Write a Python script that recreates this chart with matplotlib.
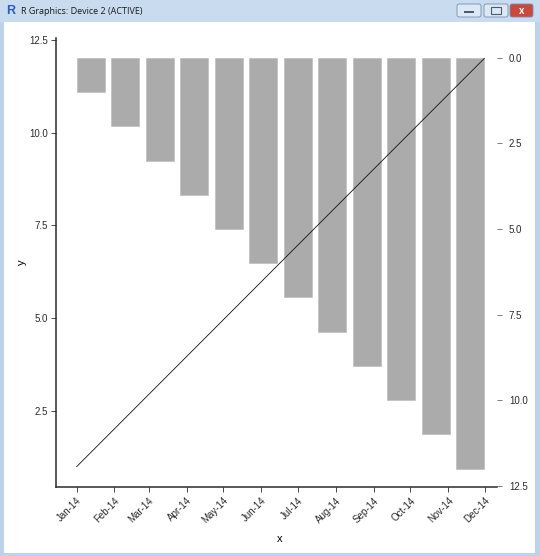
import matplotlib
matplotlib.use('Agg')
import matplotlib.pyplot as plt
import matplotlib.dates as mdates
from matplotlib.patches import Rectangle, FancyBboxPatch
import numpy as np
import pandas as pd

# data
month_dates = ['2014-01-01', '2014-02-01', '2014-03-01', '2014-04-01',
               '2014-05-01', '2014-06-01', '2014-07-01', '2014-08-01',
               '2014-09-01', '2014-10-01', '2014-11-01', '2014-12-01']
line_values = [1, 2, 3, 4, 5, 6, 7, 8, 9, 10, 11, 12]
bar_values = [1, 2, 3, 4, 5, 6, 7, 8, 9, 10, 11, 12]
left_ticks = [2.5, 5.0, 7.5, 10.0, 12.5]
right_ticks = [0.0, 2.5, 5.0, 7.5, 10.0, 12.5]

plt.rcParams['font.family'] = ['Liberation Sans', 'DejaVu Sans']

W, H = 540, 556
fig = plt.figure(figsize=(W / 100, H / 100), dpi=100)
fig.patch.set_facecolor('#bcd3ea')


def px_rect(x0, y0, x1, y1):
    # pixel box (top-left origin) -> figure fraction rect
    return [x0 / W, 1 - y1 / H, (x1 - x0) / W, (y1 - y0) / H]


# window chrome
r = px_rect(4, 22, 535, 553)
fig.patches.append(Rectangle((r[0], r[1]), r[2], r[3], transform=fig.transFigure,
                             facecolor='white', edgecolor='none', zorder=-2))
fig.patches.append(Rectangle((0, 1 - 22 / H), 1, 22 / H, transform=fig.transFigure,
                             facecolor='#c8dbef', edgecolor='none', zorder=-2))
fig.text(6 / W, 1 - 11 / H, 'R', color='#2a5cb8', fontsize=9, fontweight='bold',
         va='center', ha='left')
fig.text(21 / W, 1 - 11 / H, 'R Graphics: Device 2 (ACTIVE)', color='#1a1a1a',
         fontsize=6.5, va='center', ha='left', family=['Open Sans', 'DejaVu Sans'])
for x0, x1, fc in [(457, 481, '#dce8f5'), (484, 508, '#dce8f5'), (510, 533, '#c9493f')]:
    b = px_rect(x0, 4, x1, 17)
    fig.patches.append(FancyBboxPatch((b[0], b[1]), b[2], b[3], transform=fig.transFigure,
                                      boxstyle='round,pad=0,rounding_size=0.004',
                                      facecolor=fc, edgecolor='#7a8ea8', lw=0.6, zorder=-1))
fig.text(521.5 / W, 1 - 10.5 / H, 'x', color='white', fontsize=7, fontweight='bold',
         ha='center', va='center')
fig.patches.append(Rectangle((464 / W, 1 - 13 / H), 10 / W, 2 / H, transform=fig.transFigure,
                             facecolor='#4a5a70', edgecolor='none', zorder=-1))
fig.patches.append(Rectangle((491 / W, 1 - 14 / H), 10 / W, 7 / H, transform=fig.transFigure,
                             facecolor='none', edgecolor='#4a5a70', lw=0.8, zorder=-1))

rect = px_rect(56, 38, 497, 487)
text_col = '#2b2b2b'

# bars on their own evenly spaced axis, right-hand reversed scale
axb = fig.add_axes(rect)
axb.set_zorder(2)
bar_x = np.arange(len(bar_values))
axb.bar(bar_x, bar_values, width=0.81, color='#ababab', edgecolor='#b8b8b8', linewidth=0.4)
axb.set_xlim(-1.006, 11.777)
axb.set_ylim(12.54, -0.58)
axb.yaxis.tick_right()
axb.set_yticks(right_ticks)
axb.set_yticklabels(['%.1f' % v for v in right_ticks])
axb.tick_params(axis='y', direction='out', length=3.6, width=0.6, color='#666666',
                labelsize=7, labelcolor=text_col, pad=5)
axb.set_xticks([])
for s in axb.spines.values():
    s.set_visible(False)
axb.set_facecolor('white')

# line: evenly spaced points, left scale
axl = fig.add_axes(rect)
axl.set_zorder(3)
axl.patch.set_alpha(0)
axl.plot(np.arange(len(line_values)), line_values, color='#111111', linewidth=0.6)
axl.set_xlim(-0.559, 11.343)
axl.set_ylim(0.45, 12.55)
axl.axis('off')

# date axis carrying the left scale and the month ticks
ax = fig.add_axes(rect)
ax.set_zorder(4)
ax.patch.set_alpha(0)
dates = pd.to_datetime(month_dates)
start = pd.Timestamp(month_dates[0])
end = pd.Timestamp(month_dates[-1])
ax.set_xlim(start - pd.Timedelta(days=16.8), end + pd.Timedelta(days=9.8))
ax.set_ylim(0.45, 12.55)
ax.set_xticks(dates)
ax.xaxis.set_major_formatter(mdates.DateFormatter('%b-%y'))
ax.set_yticks(left_ticks)
ax.set_yticklabels(['%.1f' % v for v in left_ticks])
for lab in ax.get_xticklabels():
    lab.set_rotation(45)
    lab.set_ha('right')
    lab.set_va('top')
    lab.set_rotation_mode('anchor')
ax.tick_params(direction='out', length=3.5, width=0.6, color=text_col,
               labelsize=7, labelcolor=text_col, pad=2.5)
ax.spines['top'].set_visible(False)
ax.spines['right'].set_visible(False)
for k in ['left', 'bottom']:
    ax.spines[k].set_color(text_col)
    ax.spines[k].set_linewidth(1.1)

fig.text(22 / W, 1 - 262 / H, 'y', rotation=90, fontsize=8, color='black',
         ha='center', va='center')
fig.text(280 / W, 1 - 539 / H, 'x', fontsize=8, color='black', ha='center', va='center')

fig.savefig('out.png', dpi=100)
